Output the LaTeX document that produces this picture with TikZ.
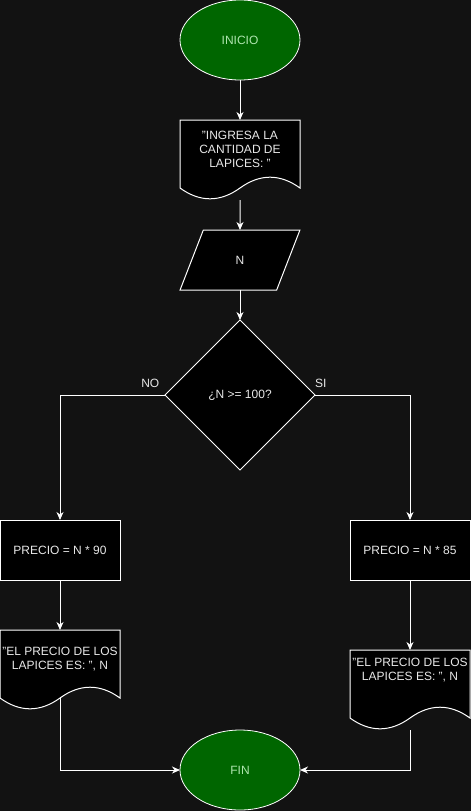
\documentclass[tikz,border=0pt]{standalone}
\usepackage{fontspec}
\setmainfont{Liberation Sans}
\usepackage{tikz}
\usetikzlibrary{shapes.geometric, arrows.meta, positioning, shapes, backgrounds}
\definecolor{canvas}{RGB}{18,18,18}
\definecolor{fg}{RGB}{232,232,232}
\definecolor{termgreen}{RGB}{0,102,0}
\definecolor{termtext}{RGB}{175,230,175}

% outline of a document shape drawn round a node 120 wide
\newcommand{\docoutline}[1]{%
	\begin{pgfonlayer}{background}
	\path [docline] (#1.north west) -- (#1.north east)
		-- ([yshift=-68pt]#1.north east)
		.. controls ([shift={(100pt,-53.6pt)}]#1.north west) and ([shift={(80pt,-53.6pt)}]#1.north west) .. ([shift={(60pt,-68pt)}]#1.north west)
		.. controls ([shift={(40pt,-82.4pt)}]#1.north west) and ([shift={(20pt,-82.4pt)}]#1.north west) .. ([yshift=-68pt]#1.north west)
		-- cycle;
	\end{pgfonlayer}}

\begin{document}
\begin{tikzpicture}[x=1pt, y=1pt, font=\fontsize{12}{14}\selectfont, every node/.style={outer sep=0pt}]
		% Define elements
		\tikzstyle{line} = [draw=white, line width=1pt, -{Stealth[length=8pt, width=7pt, inset=2.5pt]}]
		\tikzstyle{term} = [ellipse, draw=white, line width=0.8pt, fill=termgreen, text=termtext, minimum width=120pt, minimum height=80pt, inner sep=0pt]
		\tikzstyle{block} = [rectangle, draw=white, line width=1pt, fill=black, text=fg, minimum width=120pt, minimum height=60pt, inner sep=0pt]
		\tikzstyle{doc} = [rectangle, text=fg, minimum width=120pt, minimum height=58pt, inner sep=0pt, align=center]
		\tikzstyle{docline} = [draw=white, line width=1pt, fill=black]
		\tikzstyle{io} = [trapezium, trapezium left angle=71.57, trapezium right angle=108.43, trapezium stretches=true, draw=white, line width=1pt, fill=black, text=fg, minimum width=120pt, minimum height=60pt, inner sep=0pt]
		\tikzstyle{decision} = [diamond, draw=white, line width=1pt, fill=black, text=fg, minimum width=150pt, minimum height=150pt, inner sep=0pt]
		\tikzstyle{lbl} = [text=fg, inner sep=3pt]

		\begin{pgfonlayer}{background}
		\fill [canvas] (0,0) rectangle (471,-811);
		\end{pgfonlayer}
		\useasboundingbox (0,0) rectangle (471,-811);

		%% Input
		\node [name = start, term] at (240,-40) {INICIO};
		\node [name = ask, doc, below=40pt of start] {"INGRESA LA\\ CANTIDAD DE\\ LAPICES: "};
		\docoutline{ask}
		\coordinate (ask-end) at ([yshift=-22pt]ask.south);
		\node [name = inp, io, below=30pt of ask-end] {N};
		\node [name = dec, decision, below=30pt of inp] {¿N >= 100?};

		%% NO branch
		\node [name = pno, block, below left=125pt and 45pt of dec.west] {PRECIO = N * 90};
		\node [name = pnodoc, doc, below=50pt of pno] {"EL PRECIO DE LOS\\ LAPICES ES: ", N};
		\docoutline{pnodoc}
		\coordinate (pnodoc-end) at ([yshift=-10pt]pnodoc.south);

		%% SI branch
		\node [name = psi, block, below right=125pt and 35pt of dec.east] {PRECIO = N * 85};
		\node [name = psidoc, doc, minimum height=40pt, below=70pt of psi] {"EL PRECIO DE LOS\\ LAPICES ES: ", N};
		\docoutline{psidoc}
		\coordinate (psidoc-end) at ([yshift=-40pt]psidoc.south);

		%% End
		\node [name = fin, term, below=260pt of dec] {FIN};

	% arrows
		\path [line] (start) -- (ask);
		\path [line] (ask-end) -- (inp);
		\path [line] (inp) -- (dec);
		\path [line] (dec.west) -| node [lbl, above=4pt, pos=0.07] {NO} (pno);
		\path [line] (dec.east) -| node [lbl, above=4pt, pos=0.03] {SI} (psi);
		\path [line] (pno) -- (pnodoc);
		\path [line] (psi) -- (psidoc);
		\path [line] (pnodoc-end) |- (fin);
		\path [line] (psidoc-end) |- (fin);
	\end{tikzpicture}
\end{document}
